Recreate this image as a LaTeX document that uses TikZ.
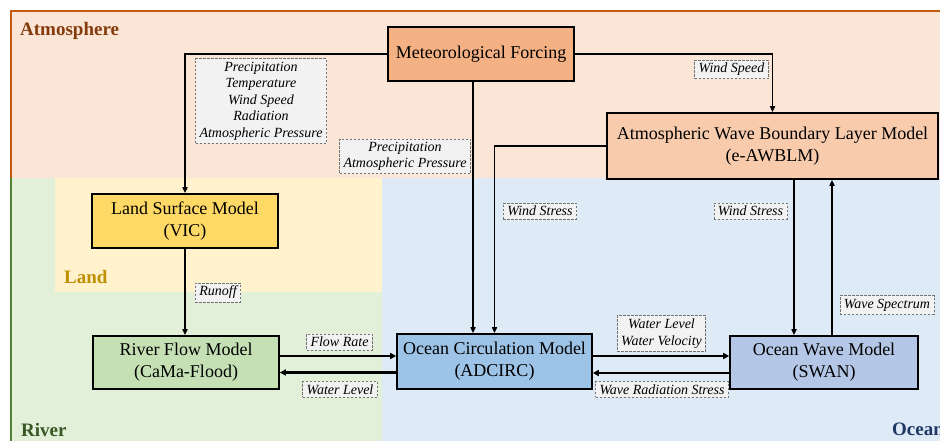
\documentclass[tikz,border=0pt]{standalone}
\usepackage{fontspec}
\setmainfont{Liberation Serif}
\usetikzlibrary{arrows.meta}
\definecolor{atmfill}{HTML}{FBE5D6}
\definecolor{atmline}{HTML}{C55A11}
\definecolor{atmtext}{HTML}{843C0C}
\definecolor{riverfill}{HTML}{E2F0D9}
\definecolor{riverline}{HTML}{548235}
\definecolor{rivertext}{HTML}{385723}
\definecolor{landfill}{HTML}{FFF2CC}
\definecolor{landtext}{HTML}{BF9000}
\definecolor{oceanfill}{HTML}{DEEBF7}
\definecolor{oceantext}{HTML}{1F3864}
\definecolor{mffill}{HTML}{F4B183}
\definecolor{wblfill}{HTML}{F8CBAD}
\definecolor{lsmfill}{HTML}{FFD966}
\definecolor{rfmfill}{HTML}{C5E0B4}
\definecolor{ocmfill}{HTML}{9DC3E6}
\definecolor{owmfill}{HTML}{B4C7E7}
\definecolor{tagfill}{HTML}{F2F2F2}
\begin{document}
\begin{tikzpicture}[x=1pt,y=-1pt,
  model/.style={draw=black,line width=1.6pt,align=center,inner sep=0pt,
    font=\fontsize{18}{22}\selectfont},
  tag/.style={draw=black!55,dash pattern=on 2.5pt off 1.5pt,fill=tagfill,line width=0.8pt,
    align=center,inner xsep=4pt,inner ysep=3pt,font=\fontsize{14}{16.5}\selectfont\itshape},
  link/.style={line width=1.6pt,-{Triangle[length=6pt,width=5pt]}},
  flow/.style={line width=2.6pt,-{Triangle[length=6pt,width=6pt]}},
  region/.style={anchor=base west,inner sep=0pt,font=\fontsize{19}{22}\selectfont\bfseries}]
\useasboundingbox (0,0) rectangle (940,440);
\clip (0,0) rectangle (940,440);
\fill[atmfill] (11,11) rectangle (960,178);
\fill[riverfill] (11,178) rectangle (382,450);
\fill[landfill] (55,178) rectangle (382,292);
\fill[oceanfill] (382,178) rectangle (960,450);
\draw[atmline,line width=2pt] (960,11) -- (11,11) -- (11,178);
\draw[riverline,line width=2pt] (11,178) -- (11,450);
\node[region,text=atmtext] (atm) at (20,35) {Atmosphere};
\node[region,text=landtext] (land) at (64,283) {Land};
\node[region,text=rivertext] (river) at (21,436) {River};
\node[region,text=oceantext] (ocean) at (892,435) {Ocean};

\node[model,fill=mffill,minimum width=186pt,minimum height=54pt] (mf) at (481,54) {Meteorological Forcing};
\node[model,fill=wblfill,minimum width=331pt,minimum height=66pt] (awblm) at (772.5,146) {Atmospheric Wave Boundary Layer Model\\(e-AWBLM)};
\node[model,fill=lsmfill,minimum width=186pt,minimum height=54pt] (lsm) at (185,221) {Land Surface Model\\(VIC)};
\node[model,fill=rfmfill,minimum width=186pt,minimum height=53pt] (rfm) at (186,362.5) {River Flow Model\\(CaMa-Flood)};
\node[model,fill=ocmfill,minimum width=195pt,minimum height=55pt] (ocm) at (494.5,361.5) {Ocean Circulation Model\\(ADCIRC)};
\node[model,fill=owmfill,minimum width=188pt,minimum height=53pt] (owm) at (824,362.5) {Ocean Wave Model\\(SWAN)};

\draw[link] (mf.west) -| (lsm.north);
\draw[link] (mf.east) -| (awblm.north);
\draw[link] ([xshift=-8pt]mf.south) -- ([xshift=-8pt]mf.south |- ocm.north);
\draw[link] (awblm.west) -| (ocm.north);
\draw[link] ([xshift=-30pt]owm.north |- awblm.south) -- ([xshift=-30pt]owm.north);
\draw[link] ([xshift=8pt]owm.north) -- ([xshift=8pt]owm.north |- awblm.south);
\draw[link] (lsm.south) -- (lsm.south |- rfm.north);
\draw[flow] ([yshift=6.5pt]rfm.east) -- ([yshift=6.5pt]rfm.east -| ocm.west);
\draw[flow] ([yshift=-11pt]ocm.west) -- ([yshift=-11pt]ocm.west -| rfm.east);
\draw[flow] ([yshift=5.5pt]ocm.east) -- ([yshift=5.5pt]ocm.east -| owm.west);
\draw[flow] ([yshift=-11.5pt]ocm.east -| owm.west) -- ([yshift=-11.5pt]ocm.east);

\node[tag] (t1) at (261,101) {Precipitation\\Temperature\\Wind Speed\\Radiation\\Atmospheric Pressure};
\node[tag] (t2) at (405,156.5) {Precipitation\\Atmospheric Pressure};
\node[tag] (t3) at (731.5,69.5) {Wind Speed};
\node[tag] (t4) at (540,211) {Wind Stress};
\node[tag] (t5) at (750.5,211) {Wind Stress};
\node[tag] (t6) at (218,292.5) {Runoff};
\node[tag] (t7) at (339.5,342) {Flow Rate};
\node[tag] (t8) at (340,389.5) {Water Level};
\node[tag] (t9) at (661.5,333.5) {Water Level\\Water Velocity};
\node[tag] (t10) at (662,389.5) {Wave Radiation Stress};
\node[tag] (t11) at (887,305) {Wave Spectrum};
\end{tikzpicture}
\end{document}
